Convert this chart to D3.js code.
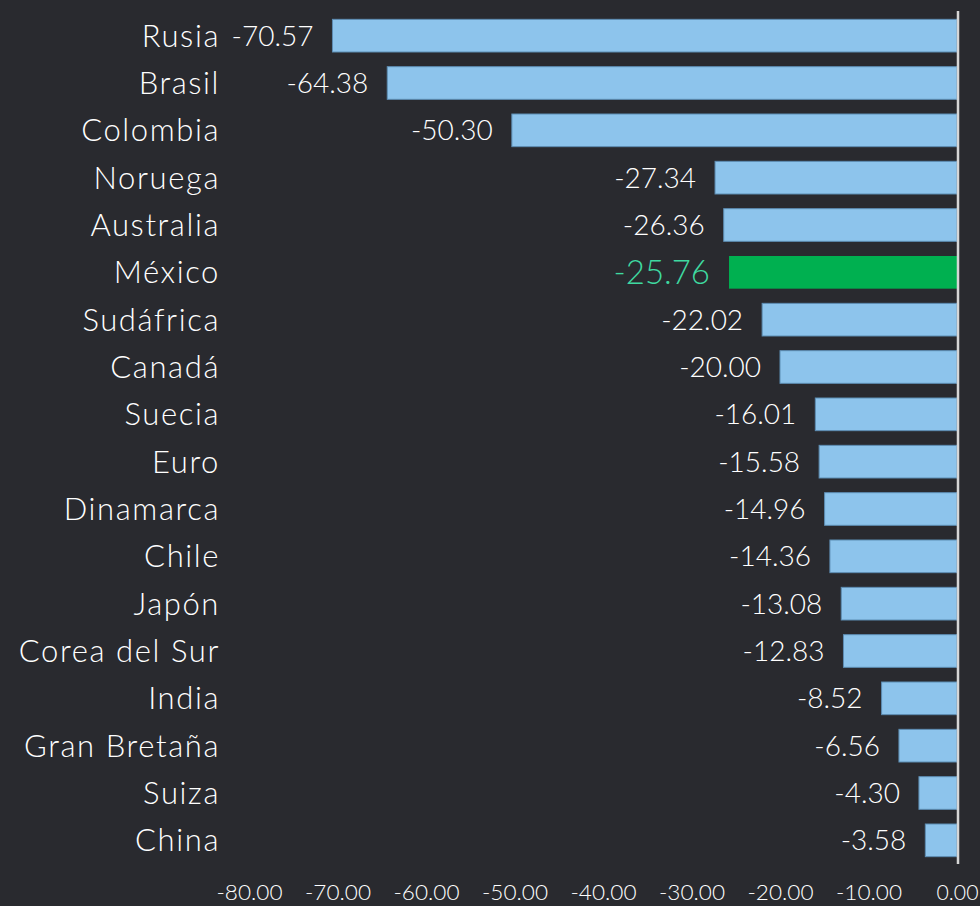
<!DOCTYPE html>
<html>
<head>
<meta charset="utf-8">
<script src="https://cdn.jsdelivr.net/npm/d3@7"></script>
<style>
  html, body { margin: 0; padding: 0; background: #292a2f; }
  svg text { font-family: "Century Gothic", "URW Gothic", Lato, sans-serif; font-weight: 300; }
</style>
</head>
<body>
<div id="chart"></div>
<script>
let countries = ["Rusia", "Brasil", "Colombia", "Noruega", "Australia", "México", "Sudáfrica", "Canadá", "Suecia",
  "Euro", "Dinamarca", "Chile", "Japón", "Corea del Sur", "India", "Gran Bretaña", "Suiza", "China"];
let values = [-70.57, -64.38, -50.30, -27.34, -26.36, -25.76, -22.02, -20.00, -16.01,
  -15.58, -14.96, -14.36, -13.08, -12.83, -8.52, -6.56, -4.30, -3.58];
let ticks = [-80, -70, -60, -50, -40, -30, -20, -10, 0];
let highlight = "México";

let width = 980, height = 906;

let dataset = countries.map((c, i) => ({ name: c, value: values[i] }));

let x = d3.scaleLinear().domain([-80, 0]).range([249, 957]);
let y = d3.scaleBand().domain(countries).range([12, 864]).paddingInner(0.31).paddingOuter(0.155);

let svg = d3.select("#chart").append("svg")
  .attr("width", width)
  .attr("height", height);

svg.append("rect").attr("width", width).attr("height", height).attr("fill", "#292a2f");

svg.selectAll("rect.bar")
  .data(dataset)
  .enter()
  .append("rect")
  .attr("class", "bar")
  .attr("x", d => x(d.value))
  .attr("y", d => y(d.name))
  .attr("width", d => x(0) - x(d.value))
  .attr("height", y.bandwidth())
  .attr("fill", d => d.name === highlight ? "#00b050" : "#8dc4ec")
  .attr("stroke", d => d.name === highlight ? "none" : "#5d8db3")
  .attr("stroke-width", 1);

// value labels
svg.selectAll("text.value")
  .data(dataset)
  .enter()
  .append("text")
  .attr("class", "value")
  .attr("x", d => x(d.value) - 19)
  .attr("y", d => y(d.name) + y.bandwidth() / 2)
  .attr("dy", "0.36em")
  .attr("text-anchor", "end")
  .attr("fill", d => d.name === highlight ? "#3fd9a0" : "#ffffff")
  .style("font-size", d => d.name === highlight ? "33px" : "28px")
  .text(d => d.value.toFixed(2));

// category labels
svg.selectAll("text.cat")
  .data(dataset)
  .enter()
  .append("text")
  .attr("class", "cat")
  .attr("x", 220)
  .attr("y", d => y(d.name) + y.bandwidth() / 2)
  .attr("dy", "0.36em")
  .attr("text-anchor", "end")
  .attr("fill", "#ffffff")
  .style("font-size", "31px")
  .style("letter-spacing", "1.6px")
  .text(d => d.name);

// zero line
svg.append("line")
  .attr("x1", x(0) + 1).attr("x2", x(0) + 1)
  .attr("y1", 11).attr("y2", 864)
  .attr("stroke", "#d6d6d6")
  .attr("stroke-width", 2.5);

// x axis tick labels
let xAxis = d3.axisBottom(x).tickValues(ticks).tickFormat(d => d.toFixed(2)).tickSize(0);
let gx = svg.append("g")
  .attr("transform", "translate(0,900)")
  .call(xAxis);
gx.select(".domain").remove();
gx.selectAll("text")
  .attr("fill", "#ffffff")
  .attr("y", 0)
  .attr("dy", 0)
  .style("font-size", "22px")
  .attr("textLength", d => d === 0 ? 42 : 66)
  .attr("lengthAdjust", "spacingAndGlyphs");
</script>
</body>
</html>
